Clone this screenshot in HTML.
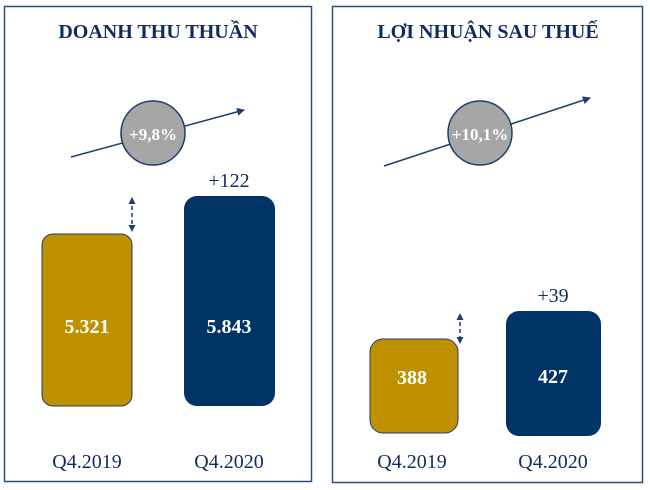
<!DOCTYPE html>
<html><head><meta charset="utf-8"><style>
body{margin:0;background:#fff;}
svg{display:block;font-family:"Liberation Serif",serif;}
</style></head><body>
<svg width="650" height="490" viewBox="0 0 650 490">
<defs><marker id="ah" markerWidth="8" markerHeight="8" refX="7" refY="4" orient="auto" markerUnits="userSpaceOnUse"><path d="M0,0 L8,4 L0,8 z" fill="#1f3d6e"/></marker>
<marker id="sa" markerWidth="7" markerHeight="7" refX="5" refY="3.5" orient="auto-start-reverse" markerUnits="userSpaceOnUse"><path d="M0,0 L7,3.5 L0,7 z" fill="#1f3d6e"/></marker></defs>
<rect x="4.5" y="6.5" width="307" height="475" fill="none" stroke="#2f4f7f" stroke-width="1.5"/>
<rect x="332.5" y="6.5" width="310" height="476" fill="none" stroke="#2f4f7f" stroke-width="1.5"/>
<text x="158" y="38" text-anchor="middle" font-size="20" font-weight="bold" fill="#0f2d5c">DOANH THU THUẦN</text>
<text x="488" y="38" text-anchor="middle" font-size="20" font-weight="bold" fill="#0f2d5c">LỢI NHUẬN SAU THUẾ</text>
<line x1="71" y1="157" x2="244" y2="110" stroke="#1f3d6e" stroke-width="1.5" marker-end="url(#ah)"/>
<circle cx="153" cy="133" r="32" fill="#a6a6a6" stroke="#1f3d6e" stroke-width="1.5"/>
<text x="153" y="140" text-anchor="middle" font-size="17" font-weight="bold" fill="#fff">+9,8%</text>
<line x1="384" y1="166" x2="590" y2="98" stroke="#1f3d6e" stroke-width="1.5" marker-end="url(#ah)"/>
<circle cx="480" cy="133" r="32" fill="#a6a6a6" stroke="#1f3d6e" stroke-width="1.5"/>
<text x="480" y="140" text-anchor="middle" font-size="17" font-weight="bold" fill="#fff">+10,1%</text>
<line x1="132" y1="199" x2="132" y2="230" stroke="#1f3d6e" stroke-width="1.5" stroke-dasharray="4,3" marker-start="url(#sa)" marker-end="url(#sa)"/>
<line x1="460" y1="315" x2="460" y2="342" stroke="#1f3d6e" stroke-width="1.5" stroke-dasharray="4,3" marker-start="url(#sa)" marker-end="url(#sa)"/>
<rect x="42" y="234" width="90" height="172" rx="11" fill="#bf9000" stroke="#1f3d6e" stroke-width="1"/>
<rect x="184" y="196" width="91" height="210" rx="13" fill="#003366"/>
<rect x="370" y="339" width="88" height="94" rx="13" fill="#bf9000" stroke="#1f3d6e" stroke-width="1"/>
<rect x="506" y="311" width="95" height="125" rx="13" fill="#003366"/>
<text x="87" y="333" text-anchor="middle" font-size="20" font-weight="bold" fill="#fff">5.321</text>
<text x="229" y="333" text-anchor="middle" font-size="20" font-weight="bold" fill="#fff">5.843</text>
<text x="412" y="384" text-anchor="middle" font-size="20" font-weight="bold" fill="#fff">388</text>
<text x="553" y="383" text-anchor="middle" font-size="20" font-weight="bold" fill="#fff">427</text>
<text x="229" y="187" text-anchor="middle" font-size="20" fill="#0f2d5c">+122</text>
<text x="553" y="302" text-anchor="middle" font-size="20" fill="#0f2d5c">+39</text>
<text x="87" y="468" text-anchor="middle" font-size="20" fill="#0f2d5c">Q4.2019</text>
<text x="229" y="468" text-anchor="middle" font-size="20" fill="#0f2d5c">Q4.2020</text>
<text x="412" y="468" text-anchor="middle" font-size="20" fill="#0f2d5c">Q4.2019</text>
<text x="553" y="468" text-anchor="middle" font-size="20" fill="#0f2d5c">Q4.2020</text>
</svg>
</body></html>
